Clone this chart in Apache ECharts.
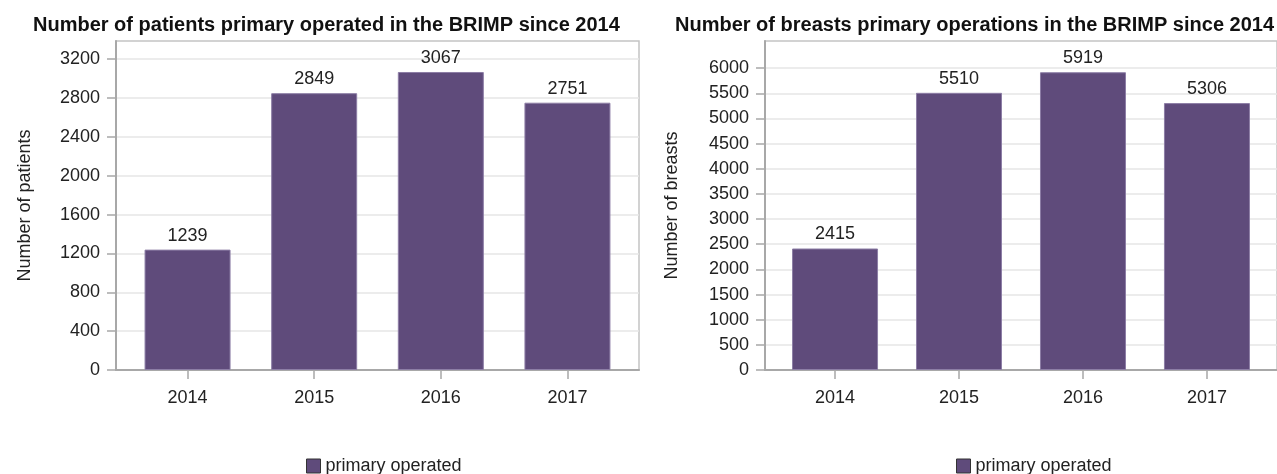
<!DOCTYPE html>
<html>
<head>
<meta charset="utf-8">
<title>BRIMP primary operations</title>
<script src="https://cdn.jsdelivr.net/npm/echarts@6.0.0/dist/echarts.min.js"></script>
<style>
  html, body { margin: 0; padding: 0; background: #fff; }
  #BRIMP { width: 1277px; height: 474px; }
</style>
</head>
<body>
<div id="BRIMP"></div>
<script>
// data
const years = ['2014', '2015', '2016', '2017'];
const patients = [1239, 2849, 3067, 2751];
const breasts = [2415, 5510, 5919, 5306];
const patientTicks = [0, 400, 800, 1200, 1600, 2000, 2400, 2800, 3200];
const breastTicks = [0, 500, 1000, 1500, 2000, 2500, 3000, 3500, 4000, 4500, 5000, 5500, 6000];
const seriesName = 'primary operated';

const FONT = '"Liberation Sans", Arial, sans-serif';
const BAR = '#5f4b7b';
const yearIdx = years.map((y, i) => i);

// x axis is a value axis so the edge gaps can be a bit wider than half a category
const xAxisFor = (gridIndex) => ({
  type: 'value',
  gridIndex,
  min: -0.565,
  max: 3.565,
  splitLine: { show: false },
  axisLine: { show: true, onZero: false, lineStyle: { color: '#a8a8a8', width: 2 } },
  axisTick: { show: true, length: 9, customValues: yearIdx, lineStyle: { color: '#a8a8a8', width: 1.5 } },
  axisLabel: {
    customValues: yearIdx,
    formatter: (v) => years[Math.round(v)],
    margin: 19,
    color: '#222',
    fontSize: 18,
    fontFamily: FONT,
  },
});

const yAxisFor = (gridIndex, max, interval, ticks, name, nameGap) => ({
  type: 'value',
  gridIndex,
  min: 0,
  max,
  interval,
  name,
  nameLocation: 'middle',
  nameGap,
  nameTextStyle: { color: '#222', fontSize: 18, fontFamily: FONT },
  axisLine: { show: true, onZero: false, lineStyle: { color: '#a8a8a8', width: 2 } },
  axisTick: { show: true, length: 9, customValues: ticks, lineStyle: { color: '#a8a8a8', width: 1.5 } },
  axisLabel: {
    customValues: ticks,
    formatter: (v) => String(v),
    margin: 16,
    color: '#222',
    fontSize: 18,
    fontFamily: FONT,
  },
  splitLine: { show: true, lineStyle: { color: '#e6e6e6', width: 1.5 } },
});

const barSeries = (idx, values) => ({
  name: seriesName,
  type: 'bar',
  xAxisIndex: idx,
  yAxisIndex: idx,
  barWidth: 86,
  data: values.map((v, i) => [i, v]),
  itemStyle: { color: BAR, borderColor: '#8d7ea6', borderWidth: 1 },
  label: {
    show: true,
    position: 'top',
    distance: 5,
    color: '#222',
    fontSize: 18,
    fontFamily: FONT,
    formatter: (p) => p.value[1],
  },
});

const legendFor = (left) => ({
  data: [seriesName], left, top: 452,
  icon: 'rect', itemWidth: 14, itemHeight: 14, itemGap: 7,
  itemStyle: { borderColor: '#333', borderWidth: 1 },
  textStyle: { color: '#222', fontSize: 18, fontFamily: FONT },
});

const drawBRIMP = () => {
  const dom = document.getElementById('BRIMP');
  const myChart = echarts.init(dom);
  const option = {
    animation: false,
    title: [
      {
        text: 'Number of patients primary operated in the BRIMP since 2014',
        left: 28, top: 10,
        textStyle: { color: '#111', fontSize: 20, fontWeight: 'bold', fontFamily: FONT },
      },
      {
        text: 'Number of breasts primary operations in the BRIMP since 2014',
        left: 670, top: 10,
        textStyle: { color: '#111', fontSize: 20, fontWeight: 'bold', fontFamily: FONT },
      },
    ],
    legend: [legendFor(301), legendFor(951)],
    grid: [
      { left: 116, top: 41, width: 523, height: 329, show: true, borderColor: '#c4c4c4', borderWidth: 1.5 },
      { left: 765, top: 41, width: 523, height: 329, show: true, borderColor: '#c4c4c4', borderWidth: 1.5 },
    ],
    xAxis: [xAxisFor(0), xAxisFor(1)],
    yAxis: [
      yAxisFor(0, 3386, 400, patientTicks, 'Number of patients', 82),
      yAxisFor(1, 6540, 500, breastTicks, 'Number of breasts', 84),
    ],
    series: [barSeries(0, patients), barSeries(1, breasts)],
  };
  myChart.setOption(option);
  window.addEventListener('resize', function () {
    myChart.resize();
  });
};
drawBRIMP();
</script>
</body>
</html>
